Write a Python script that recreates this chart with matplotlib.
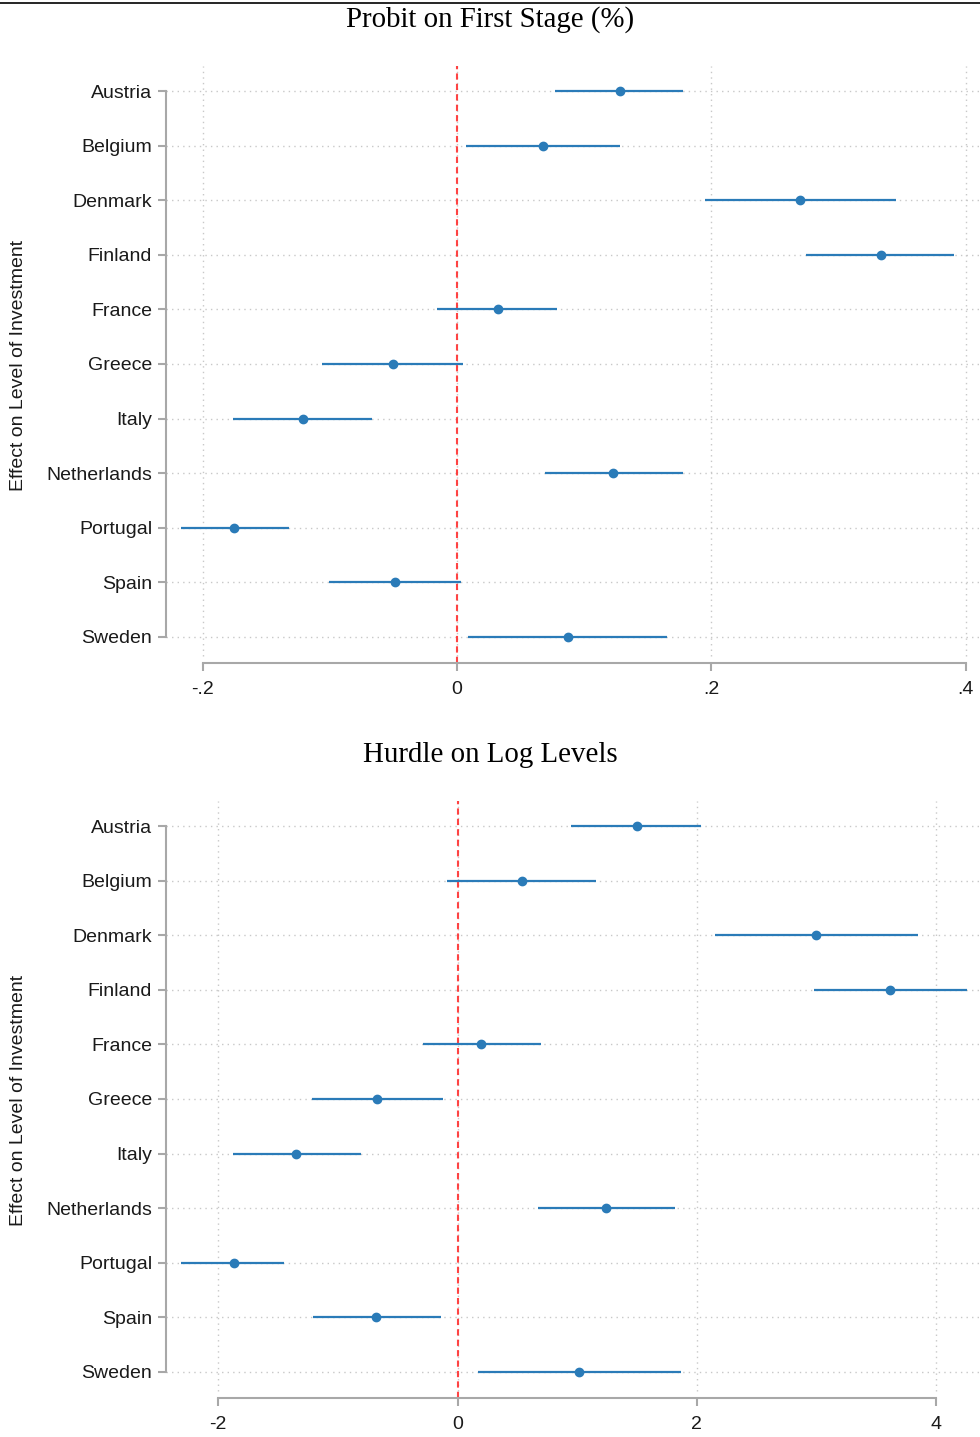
import numpy as np
import matplotlib.pyplot as plt
from matplotlib.lines import Line2D

countries = ["Austria", "Belgium", "Denmark", "Finland", "France", "Greece",
             "Italy", "Netherlands", "Portugal", "Spain", "Sweden"]

# Probit on first stage
probit_est = [0.128, 0.068, 0.270, 0.333, 0.032, -0.050, -0.121, 0.123, -0.175, -0.049, 0.087]
probit_lo = [0.077, 0.007, 0.195, 0.274, -0.016, -0.106, -0.176, 0.069, -0.217, -0.101, 0.009]
probit_hi = [0.178, 0.128, 0.345, 0.391, 0.079, 0.005, -0.067, 0.178, -0.132, 0.003, 0.165]
probit_ticks = [-0.2, 0, 0.2, 0.4]
probit_ticklabels = ["-.2", "0", ".2", ".4"]

# Hurdle on log levels
hurdle_est = [1.50, 0.54, 3.00, 3.62, 0.20, -0.67, -1.35, 1.24, -1.87, -0.68, 1.02]
hurdle_lo = [0.95, -0.09, 2.15, 2.98, -0.29, -1.22, -1.88, 0.67, -2.31, -1.21, 0.17]
hurdle_hi = [2.04, 1.16, 3.85, 4.26, 0.70, -0.12, -0.81, 1.82, -1.45, -0.14, 1.87]
hurdle_ticks = [-2, 0, 2, 4]
hurdle_ticklabels = ["-2", "0", "2", "4"]

blue = "#2a7bb8"
spine_gray = "#a8a8a8"
W, H = 980, 1437

fig = plt.figure(figsize=(9.8, 14.37), dpi=100)
fig.add_artist(Line2D([0, 1], [1 - 2.5 / H, 1 - 2.5 / H], color="black", lw=1.2))


def panel(top_px, bottom_px, est, lo, hi, ticks, ticklabels, xlim, title, title_y):
    ax = fig.add_axes([166 / W, 1 - bottom_px / H, 1 - 166 / W, (bottom_px - top_px) / H])
    y = np.arange(len(countries))
    ax.set_ylim(len(countries) - 1 + 0.48, -0.46)
    ax.set_xlim(*xlim)

    for t in ticks:
        ax.plot([t, t], [len(countries) - 1 + 0.35, -0.46], color="#c8c8c8",
                lw=1, ls=(0, (1, 3)), zorder=1)
    for yy in y:
        ax.axhline(yy, color="#c8c8c8", lw=1, ls=(0, (1, 3)), zorder=1)

    ax.axvline(0, color="#ff3030", lw=1.5, ls=(0, (3, 2)), zorder=2, alpha=0.9)
    ax.hlines(y, lo, hi, color=blue, lw=1.6, zorder=3)
    ax.plot(est, y, "o", color=blue, ms=6, zorder=4)

    ax.set_yticks(y)
    ax.set_yticklabels(countries, fontsize=14, family="Liberation Sans", color="#1a1a1a")
    ax.set_xticks(ticks)
    ax.set_xticklabels(ticklabels, fontsize=14, family="Liberation Sans", color="#1a1a1a")

    for s in ["top", "right"]:
        ax.spines[s].set_visible(False)
    ax.spines["left"].set_bounds(0, len(countries) - 1)
    ax.spines["bottom"].set_bounds(ticks[0], ticks[-1])
    for s in ["left", "bottom"]:
        ax.spines[s].set_color(spine_gray)
        ax.spines[s].set_linewidth(1.5)
    ax.tick_params(axis="both", color=spine_gray, width=1.5, length=6)
    ax.tick_params(axis="y", pad=4)
    ax.tick_params(axis="x", pad=7)

    fig.text(490 / W, 1 - title_y / H, title, ha="center", va="center",
             fontsize=20.8, family="Liberation Serif")
    fig.text(19 / W, 1 - (top_px + bottom_px) / 2 / H - 1 / H, "Effect on Level of Investment",
             rotation=90, ha="center", va="center", fontsize=14,
             family="Liberation Sans", color="#1a1a1a")
    return ax


panel(66, 663, probit_est, probit_lo, probit_hi, probit_ticks, probit_ticklabels,
      ((166 - 457) / 1272, (980 - 457) / 1272), "Probit on First Stage (%)", 20)
panel(801, 1398, hurdle_est, hurdle_lo, hurdle_hi, hurdle_ticks, hurdle_ticklabels,
      ((166 - 457.5) / 119.6, (980 - 457.5) / 119.6), "Hurdle on Log Levels", 755)

fig.savefig("out.png", dpi=100)
